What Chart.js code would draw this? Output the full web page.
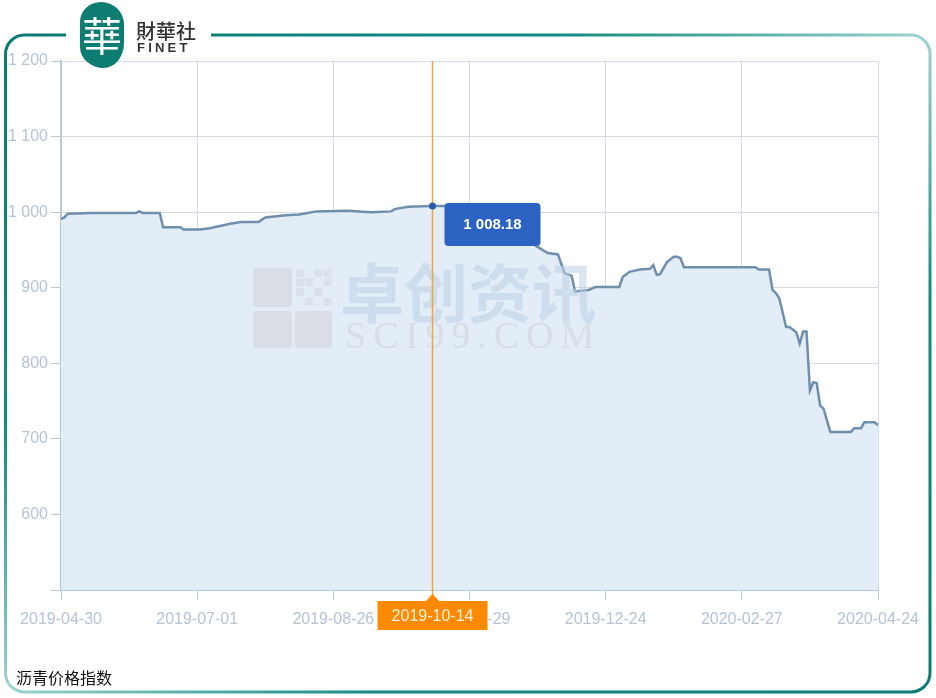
<!DOCTYPE html>
<html>
<head>
<meta charset="utf-8">
<script src="https://cdn.jsdelivr.net/npm/chart.js@4.4.1/dist/chart.umd.min.js"></script>
<style>
  html, body { margin: 0; padding: 0; background: #ffffff; }
  #wrap { position: relative; width: 936px; height: 698px; overflow: hidden; }
  #frame { position: absolute; left: 0; top: 0; }
  #chartBox { position: absolute; left: 0; top: 0; width: 936px; height: 698px; }
  #logoGap { position: absolute; left: 66px; top: 28px; width: 145px; height: 14px; background: #fff; }
  #logoBlob { position: absolute; left: 80px; top: 2px; width: 44px; height: 66px; background: #0d7c72;
    border-radius: 48% 52% 46% 54% / 30% 34% 38% 32%; color: #fff; font: 400 40px "Noto Sans CJK TC", serif;
    text-align: center; line-height: 64px; }
  #logoCN { position: absolute; left: 136px; top: 16px; font: 500 20px "Noto Sans CJK TC", sans-serif; color: #333; }
  #logoEN { position: absolute; left: 137px; top: 40px; font: 700 13px "Liberation Sans", Arial, sans-serif; color: #333; letter-spacing: 3.2px; }
  #caption { position: absolute; left: 16px; top: 665px; font: 400 16px "Noto Sans CJK SC", sans-serif; color: #111; }
</style>
</head>
<body>
<div id="wrap">
  <svg id="frame" width="936" height="698">
    <defs>
      <linearGradient id="fg" x1="0" y1="0" x2="1" y2="1">
        <stop offset="0" stop-color="#0b7b74"/>
        <stop offset="0.3" stop-color="#138a82"/>
        <stop offset="0.5" stop-color="#9fd3cf"/>
        <stop offset="0.7" stop-color="#138a82"/>
        <stop offset="1" stop-color="#0b7b74"/>
      </linearGradient>
    </defs>
    <rect x="5.5" y="35" width="924.5" height="657" rx="19" ry="19" fill="none" stroke="url(#fg)" stroke-width="3"/>
  </svg>
  <div id="logoGap"></div>
  <div id="chartBox"><canvas id="c"></canvas></div>
  <div id="logoBlob">華</div>
  <div id="logoCN">財華社</div>
  <div id="logoEN">FINET</div>
  <div id="caption">沥青价格指数</div>
</div>
<script>
// ---- data (trading-day index from 2019-04-30) ----
const tickLabels = ['2019-04-30','2019-07-01','2019-08-26','2019-10-29','2019-12-24','2020-02-27','2020-04-24'];
const tickDayIndex = [0, 40, 80, 120, 160, 200, 240];
const dayIndex = [0,1,2,9,22,23,24,29,30,35,36,41,44,47,50,53,58,60,66,70,75,84,91,97,98,102,109,113,116,117,121,122,127,128,132,133,137,138,140,143,146,147,148,150,151,155,157,164,165,167,170,173,174,175,176,178,180,181,182,183,204,205,208,209,210,211,213,214,216,217,218,219,220,221,222,223,224,226,232,233,235,236,239,240];
const priceIndex = [991,993,998,999,999,1001,999,999,980,980,977,977,979,982,985,987,987,993,996,997,1001,1002,1000,1001,1004,1007,1008.18,1008,1008,1003,1003,996,994,985,983,972,968,960,954,946,944,931,919,916,895,897,901,901,914,921,924,925,930,917,918,934,941,941,939,927,927,924,924,897,893,886,848,848,841,826,842,842,764,775,774,744,740,709,709,714,714,722,722,718];
const hoverDay = 109;
const hoverDate = '2019-10-14';
const hoverValue = 1008.18;
const yTicks = [500, 600, 700, 800, 900, 1000, 1100, 1200];

function fmt(v) {
  const neg = v < 0; v = Math.abs(v);
  let parts = (Math.round(v * 100) / 100).toString().split('.');
  let ip = parts[0].replace(/\B(?=(\d{3})+(?!\d))/g, ' ');
  return (neg ? '-' : '') + ip + (parts[1] ? '.' + parts[1].padEnd(2, '0') : '');
}

const points = dayIndex.map((d, i) => ({ x: d, y: priceIndex[i] }));

function roundRect(ctx, x, y, w, h, r) {
  ctx.beginPath();
  ctx.moveTo(x + r, y);
  ctx.lineTo(x + w - r, y);
  ctx.quadraticCurveTo(x + w, y, x + w, y + r);
  ctx.lineTo(x + w, y + h - r);
  ctx.quadraticCurveTo(x + w, y + h, x + w - r, y + h);
  ctx.lineTo(x + r, y + h);
  ctx.quadraticCurveTo(x, y + h, x, y + h - r);
  ctx.lineTo(x, y + r);
  ctx.quadraticCurveTo(x, y, x + r, y);
  ctx.closePath();
}

const watermark = {
  id: 'watermark',
  afterDatasetsDraw(chart) {
    const ctx = chart.ctx;
    ctx.save();
    ctx.globalAlpha = 0.45;
    ctx.fillStyle = '#c9cad0';
    roundRect(ctx, 253, 268, 39, 39, 4); ctx.fill();
    roundRect(ctx, 253, 311, 39, 37, 4); ctx.fill();
    roundRect(ctx, 295, 311, 37, 37, 4); ctx.fill();
    const cells = [[0,0],[2,0],[1,1],[3,1],[0,2],[2,2],[1,3],[3,3],[0,1],[3,0]];
    ctx.globalAlpha = 0.35;
    for (const [cx, cy] of cells) { ctx.fillRect(296 + cx * 9.2, 269 + cy * 9.5, 8, 8); }
    ctx.globalAlpha = 0.55;
    ctx.fillStyle = '#bdd0e6';
    ctx.font = '700 64px "Noto Sans CJK SC", sans-serif';
    ctx.textBaseline = 'alphabetic';
    ctx.textAlign = 'left';
    ctx.fillText('卓创资讯', 340, 317);
    ctx.fillStyle = '#cdd1d7';
    ctx.font = '400 38px "Liberation Serif", serif';
    ctx.letterSpacing = '7px';
    ctx.fillText('SCI99.COM', 345, 348);
    ctx.restore();
  }
};

const crosshair = {
  id: 'crosshair',
  afterDraw(chart) {
    const ctx = chart.ctx;
    const xs = chart.scales.x, ys = chart.scales.y;
    const px = Math.round(xs.getPixelForValue(hoverDay)) + 0.5;
    const py = ys.getPixelForValue(hoverValue);
    const area = chart.chartArea;
    ctx.save();
    ctx.strokeStyle = '#f4a23a';
    ctx.lineWidth = 1.5;
    ctx.beginPath();
    ctx.moveTo(px, area.top);
    ctx.lineTo(px, area.bottom + 11);
    ctx.stroke();
    ctx.fillStyle = '#2a5bb0';
    ctx.beginPath();
    ctx.arc(px, py, 3.5, 0, Math.PI * 2);
    ctx.fill();
    const tx = px + 12, ty = py - 3, tw = 96, th = 43;
    ctx.fillStyle = '#2c62c1';
    roundRect(ctx, tx, ty, tw, th, 4);
    ctx.fill();
    ctx.fillStyle = '#ffffff';
    ctx.font = '700 15px "Liberation Sans", Arial, sans-serif';
    ctx.textAlign = 'center';
    ctx.textBaseline = 'middle';
    ctx.fillText(fmt(hoverValue), tx + tw / 2, ty + th / 2);
    const by = area.bottom + 11, bw = 110, bh = 29;
    ctx.fillStyle = '#ff8a00';
    ctx.fillRect(px - bw / 2, by, bw, bh);
    ctx.beginPath();
    ctx.moveTo(px - 7, by + 0.5);
    ctx.lineTo(px, by - 7);
    ctx.lineTo(px + 7, by + 0.5);
    ctx.closePath();
    ctx.fill();
    ctx.fillStyle = '#fff4dc';
    ctx.font = '400 16px "Liberation Sans", Arial, sans-serif';
    ctx.fillText(hoverDate, px, by + bh / 2 + 1);
    ctx.restore();
  }
};

new Chart(document.getElementById('c'), {
  type: 'line',
  data: {
    datasets: [{
      data: points,
      borderColor: '#6f8fad',
      borderWidth: 2.5,
      backgroundColor: '#e3edf8',
      fill: 'start',
      pointRadius: 0,
      tension: 0
    }]
  },
  options: {
    responsive: true,
    maintainAspectRatio: false,
    animation: false,
    events: [],
    layout: { padding: { left: 0, top: 61, right: 58, bottom: 68 } },
    plugins: { legend: { display: false }, tooltip: { enabled: false } },
    scales: {
      x: {
        type: 'linear',
        min: 0, max: 240,
        afterBuildTicks(scale) { scale.ticks = tickDayIndex.map(v => ({ value: v })); },
        afterFit(scale) { scale.height = 40; },
        ticks: {
          autoSkip: false, maxRotation: 0,
          padding: 10,
          color: '#b5c4d6',
          font: { family: '"Liberation Sans", Arial, sans-serif', size: 16 },
          callback(v) { const i = tickDayIndex.indexOf(v); return i >= 0 ? tickLabels[i] : ''; }
        },
        grid: { color: '#d2dde9', lineWidth: 1, tickLength: 10, tickColor: '#b9c9dc' },
        border: { color: '#b9c9dc', width: 2 }
      },
      y: {
        min: 500, max: 1200,
        afterBuildTicks(scale) { scale.ticks = yTicks.map(v => ({ value: v })); },
        afterFit(scale) { scale.width = 61; },
        ticks: {
          padding: 3,
          color: '#b5c4d6',
          font: { family: '"Liberation Sans", Arial, sans-serif', size: 16 },
          callback(v) { return v === 500 ? '' : fmt(v); }
        },
        grid: { color: '#d2dde9', lineWidth: 1, tickLength: 10, tickColor: '#b9c9dc' },
        border: { color: '#b9c9dc', width: 2 }
      }
    }
  },
  plugins: [watermark, crosshair]
});
</script>
</body>
</html>
